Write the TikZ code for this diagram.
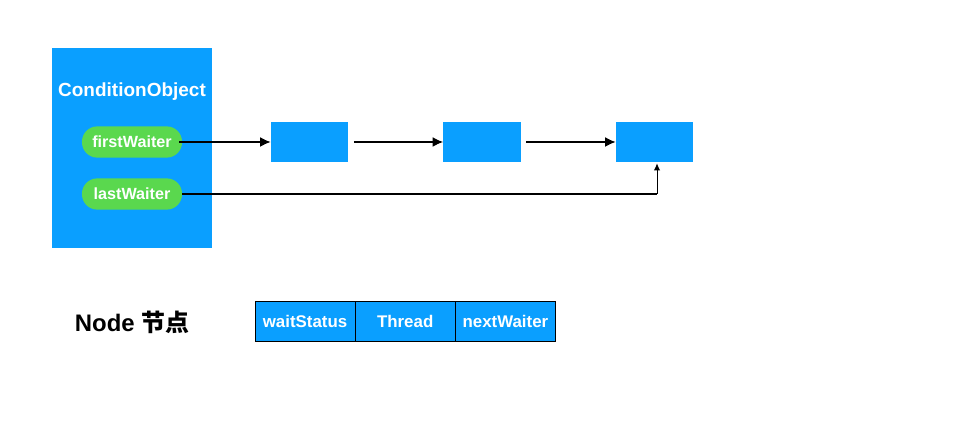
\documentclass[tikz,border=0pt]{standalone}
\usepackage{fontspec}
\setmainfont{Liberation Sans}
\newfontfamily\cjkfont{Noto Sans CJK SC}
\usetikzlibrary{positioning,calc,arrows.meta}
\definecolor{condblue}{RGB}{10,159,255}
\definecolor{ptrgreen}{RGB}{90,216,78}

\tikzset{
	waiter/.style={fill=ptrgreen,rounded corners=0.38cm,minimum width=2.5cm,minimum height=0.78cm,inner sep=0pt,text=white,font=\bfseries\fontsize{11.5}{13}\selectfont},
	listnode/.style={fill=condblue,minimum width=1.925cm,minimum height=1cm,inner sep=0pt},
	field/.style={draw=black,fill=condblue,minimum width=2.49cm,minimum height=1cm,inner sep=0pt,text=white,font=\bfseries\fontsize{12}{14}\selectfont},
	link/.style={black,line width=1.1pt,-{Latex[length=7.5pt,width=7pt]}}
}

\begin{document}
\begin{tikzpicture}[x=0.025cm,y=-0.025cm]
		
		\useasboundingbox (0,0) rectangle (954,431);
		
		% ConditionObject
		\node[fill=condblue,minimum width=4cm,minimum height=5cm,inner sep=0pt] (cond) at (132,148) {};
		\node[text=white,font=\bfseries\fontsize{13.5}{16}\selectfont] (title) at (132,92) {ConditionObject};
		\node[waiter] (first) at (132,142) {firstWaiter};
		\node[waiter] (last) at (132,194) {lastWaiter};
		
		% waiting queue
		\node[listnode] (n1) at (309.5,142) {};
		\node[listnode] (n2) at (482,142) {};
		\node[listnode] (n3) at (654.5,142) {};
		
		\coordinate (turn) at (657,194);
		
		\draw[link] ($(first.east)-(3,0)$) -- (n1.west);
		\draw[link,shorten <=4pt] (n1.east) -- (n2.west);
		\draw[link,shorten <=4pt] (n2.east) -- (n3.west);
		\draw[black,line width=1.1pt] (last.east) -- (turn);
		\draw[black,line width=0.7pt,-{Latex[length=5pt,width=4.5pt]}] (turn) -- ($(turn|-n3.south)+(0,1)$);
		
		% Node fields
		\node[font=\bfseries\fontsize{17}{20}\selectfont] (legend) at (132,322) {Node {\cjkfont 节点}};
		\node[field] (status) at (305,321) {waitStatus};
		\node[field,anchor=west] (thread) at (status.east) {Thread};
		\node[field,anchor=west] (next) at (thread.east) {nextWaiter};
		
\end{tikzpicture}
\end{document}
